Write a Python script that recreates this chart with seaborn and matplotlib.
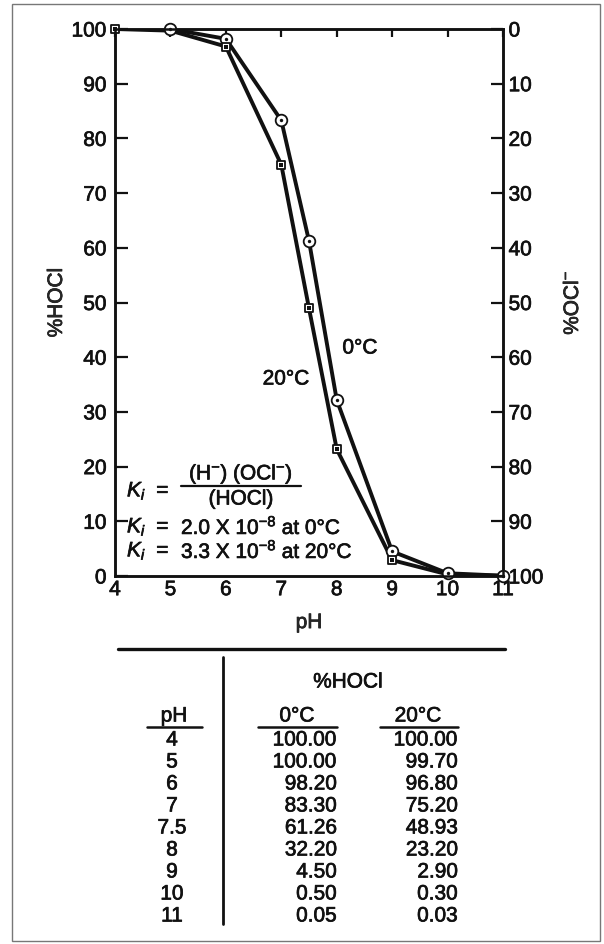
import matplotlib
matplotlib.use("Agg")
import matplotlib.pyplot as plt
import matplotlib.patheffects as pe
import seaborn as sns
import pandas as pd
from matplotlib.lines import Line2D
from matplotlib.patches import Rectangle
from matplotlib.text import Text

# data (table under the chart)
ph = [4, 5, 6, 7, 7.5, 8, 9, 10, 11]
hocl_0c = [100.00, 100.00, 98.20, 83.30, 61.26, 32.20, 4.50, 0.50, 0.05]
hocl_20c = [100.00, 99.70, 96.80, 75.20, 48.93, 23.20, 2.90, 0.30, 0.03]
# which points carry a marker in the figure
marked_0c = [False, True, True, True, True, True, True, True, True]
marked_20c = [True, False, True, True, True, True, True, False, False]

x_ticks = [4, 5, 6, 7, 8, 9, 10, 11]
y_ticks = [0, 10, 20, 30, 40, 50, 60, 70, 80, 90, 100]

sns.set_style("white")
plt.rcParams["font.family"] = ["Liberation Sans", "DejaVu Sans"]
plt.rcParams["mathtext.fontset"] = "custom"
plt.rcParams["mathtext.rm"] = "Liberation Sans"
plt.rcParams["mathtext.it"] = "Liberation Sans:italic"
plt.rcParams["text.color"] = "#111111"

FS = 15
INK = "#111111"
W, H = 604, 945
def fx(px):
    return px / W
def fy(py):
    return 1 - py / H

df0 = pd.DataFrame({"pH": ph, "HOCl": hocl_0c, "mark": marked_0c})
df20 = pd.DataFrame({"pH": ph, "HOCl": hocl_20c, "mark": marked_20c})

fig = plt.figure(figsize=(W / 100, H / 100), dpi=100)
ax = fig.add_axes([fx(115), fy(577), fx(503) - fx(115), fy(30) - fy(577)])

sns.lineplot(data=df0, x="pH", y="HOCl", ax=ax, color=INK, lw=2.8, zorder=2)
sns.lineplot(data=df20, x="pH", y="HOCl", ax=ax, color=INK, lw=2.8, zorder=2)

m0 = df0[df0["mark"]]
m20 = df20[df20["mark"]]
sns.scatterplot(data=m0, x="pH", y="HOCl", ax=ax, marker="o", s=70,
                facecolor="white", edgecolor=INK, linewidth=1.3, zorder=4, clip_on=False)
sns.scatterplot(data=m0, x="pH", y="HOCl", ax=ax, marker="o", s=6,
                color=INK, linewidth=0, zorder=5, clip_on=False)
sns.scatterplot(data=m20, x="pH", y="HOCl", ax=ax, marker="s", s=40,
                facecolor="white", edgecolor=INK, linewidth=1.3, zorder=4, clip_on=False)
sns.scatterplot(data=m20, x="pH", y="HOCl", ax=ax, marker="s", s=5,
                color=INK, linewidth=0, zorder=5, clip_on=False)

ax.set_xlim(4, 11)
ax.set_ylim(0, 100)
ax.set_xticks(x_ticks)
ax.set_yticks(y_ticks)
ax.set_xlabel("pH", fontsize=FS, labelpad=10)
ax.set_ylabel("%HOCl", fontsize=FS, labelpad=4)
ax.tick_params(axis="both", direction="in", length=9, width=1.6, labelsize=FS,
               colors=INK, pad=6, top=True)
ax.tick_params(axis="x", pad=3)
for t in ax.xaxis.get_major_ticks():
    t.tick2line.set_markersize(6)
for sp in ax.spines.values():
    sp.set_linewidth(1.8)
    sp.set_color(INK)

ax2 = ax.twinx()
ax2.set_ylim(100, 0)
ax2.set_yticks(y_ticks)
ax2.set_ylabel("%OCl$^{-}$", fontsize=FS, rotation=90, labelpad=14)
ax2.tick_params(axis="y", direction="in", length=9, width=1.6, labelsize=FS,
                colors=INK, pad=4)
for sp in ax2.spines.values():
    sp.set_linewidth(1.8)
    sp.set_color(INK)

# curve labels
fig.text(fx(360), fy(349), "0°C", fontsize=FS, ha="center", va="center")
fig.text(fx(286), fy(380), "20°C", fontsize=FS, ha="center", va="center")

# equilibrium expression
fig.text(fx(127), fy(492), "$K_i$  =", fontsize=FS, ha="left", va="center")
fig.text(fx(241), fy(475), "(H$^{-}$) (OCl$^{-}$)", fontsize=FS, ha="center", va="center")
fig.add_artist(Line2D([fx(181), fx(301)], [fy(487), fy(487)], color=INK, lw=1.6))
fig.text(fx(241), fy(500), "(HOCl)", fontsize=FS, ha="center", va="center")
fig.text(fx(127), fy(528), "$K_i$  =", fontsize=FS, ha="left", va="center")
fig.text(fx(181), fy(528), "2.0 X 10$^{-8}$ at 0°C", fontsize=FS, ha="left", va="center")
fig.text(fx(127), fy(552), "$K_i$  =", fontsize=FS, ha="left", va="center")
fig.text(fx(181), fy(552), "3.3 X 10$^{-8}$ at 20°C", fontsize=FS, ha="left", va="center")

# table under the chart
fig.add_artist(Line2D([fx(118), fx(505)], [fy(650), fy(650)], color=INK, lw=2.4))
fig.add_artist(Line2D([fx(223), fx(223)], [fy(658), fy(925)], color=INK, lw=2.0))
fig.text(fx(348), fy(683), "%HOCl", fontsize=FS, ha="center", va="center")
fig.text(fx(174), fy(717), "pH", fontsize=FS, ha="center", va="center")
fig.text(fx(297), fy(717), "0°C", fontsize=FS, ha="center", va="center")
fig.text(fx(418), fy(717), "20°C", fontsize=FS, ha="center", va="center")
for x1, x2 in [(147, 202), (258, 337), (380, 458)]:
    fig.add_artist(Line2D([fx(x1), fx(x2)], [fy(728), fy(728)], color=INK, lw=1.8))
for i, (p, a, b) in enumerate(zip(ph, hocl_0c, hocl_20c)):
    yy = fy(741 + 22 * i)
    fig.text(fx(172), yy, f"{p:g}", fontsize=FS, ha="center", va="center")
    fig.text(fx(337), yy, f"{a:.2f}", fontsize=FS, ha="right", va="center")
    fig.text(fx(458), yy, f"{b:.2f}", fontsize=FS, ha="right", va="center")

# thin frame around the whole figure
fig.add_artist(Rectangle((fx(12), fy(942)), fx(600) - fx(12), fy(5) - fy(942),
                         fill=False, edgecolor="#777777", lw=1.0))

# the scanned lettering is a little heavier than plain Liberation Sans
for t in fig.findobj(Text):
    t.set_path_effects([pe.withStroke(linewidth=0.5, foreground=INK)])

fig.savefig("out.png", dpi=100)
